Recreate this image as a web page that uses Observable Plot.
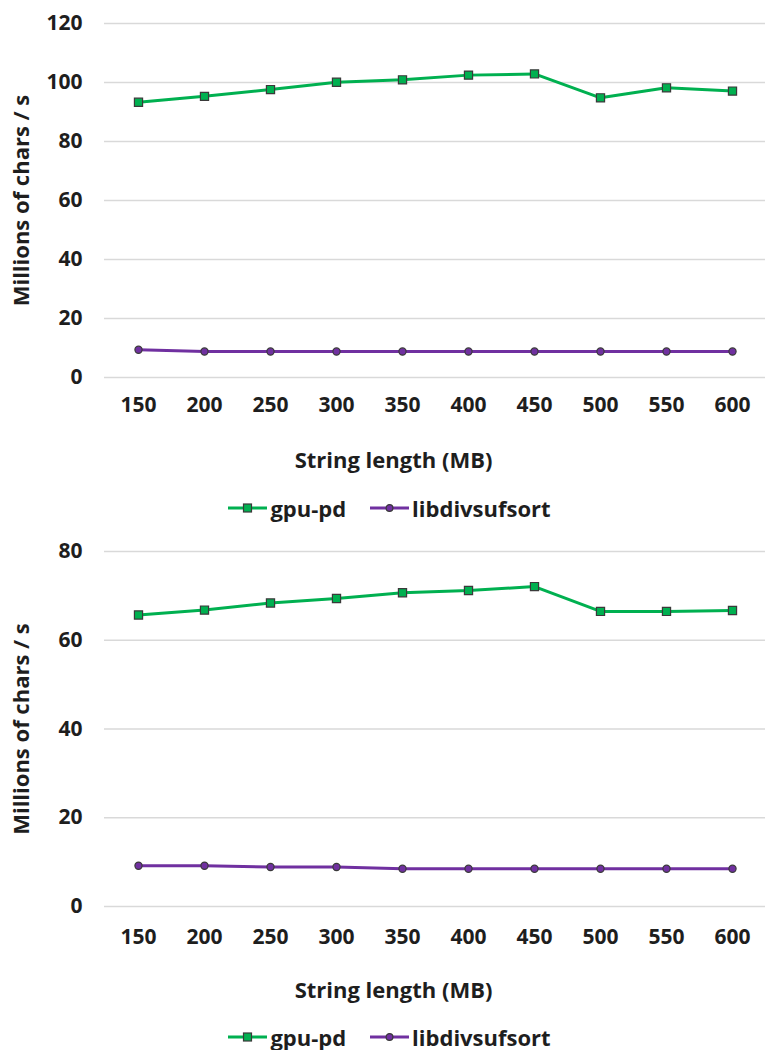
<!DOCTYPE html>
<html>
<head>
<meta charset="utf-8">
<script src="https://cdn.jsdelivr.net/npm/d3@7"></script>
<script src="https://cdn.jsdelivr.net/npm/@observablehq/plot@0.6"></script>
<style>
  html, body { margin: 0; padding: 0; background: #fff; overflow: hidden; }
  body { width: 765px; height: 1050px; font-family: "Open Sans", sans-serif; font-weight: 700; color: #1e1e1e; }
  .legend { display: flex; justify-content: center; align-items: center; font-size: 22px; line-height: 24px; padding-left: 14px; box-sizing: border-box; }
  .legend .item { display: flex; align-items: center; margin: 0 12px; }
  .legend svg { margin-right: 3px; }
</style>
</head>
<body>
<div id="chart1"></div>
<div class="legend" id="legend1" style="height:46px"></div>
<div id="chart2"></div>
<div class="legend" id="legend2" style="height:34px; padding-top:8px"></div>
<script>
const sizes = [150, 200, 250, 300, 350, 400, 450, 500, 550, 600];
const seriesNames = ["gpu-pd", "libdivsufsort"];
const gpuTop = [93.3, 95.3, 97.6, 100.1, 100.9, 102.5, 102.9, 94.8, 98.2, 97.1];
const libTop = [9.4, 8.8, 8.8, 8.8, 8.8, 8.8, 8.8, 8.8, 8.8, 8.8];
const gpuBottom = [65.7, 66.8, 68.4, 69.4, 70.7, 71.2, 72.1, 66.5, 66.5, 66.7];
const libBottom = [9.2, 9.2, 8.9, 8.9, 8.5, 8.5, 8.5, 8.5, 8.5, 8.5];
const yTicksTop = [0, 20, 40, 60, 80, 100, 120];
const yTicksBottom = [0, 20, 40, 60, 80];
const yTitle = "Millions of chars / s";
const xTitle = "String length (MB)";

const green = "#00b050", purple = "#7030a0", edge = "#3a3a3a";

function makeChart({gpu, lib, yMax, yTicks, height, marginTop, plotBottom, tickPad, xTitleDy}) {
  const g = sizes.map((s, i) => ({size: s, value: gpu[i]}));
  const l = sizes.map((s, i) => ({size: s, value: lib[i]}));
  const marginLeft = 104, marginRight = 0;
  const cx = (marginLeft + 765 - marginRight) / 2;
  return Plot.plot({
    width: 765,
    height,
    marginTop,
    marginBottom: height - plotBottom,
    marginLeft,
    marginRight,
    style: {fontFamily: "'Open Sans', sans-serif", fontWeight: 700, fontSize: "21px", color: "#1e1e1e", background: "#fff"},
    x: {type: "point", domain: sizes, padding: 0.5},
    y: {domain: [0, yMax]},
    marks: [
      Plot.ruleY(yTicks, {stroke: "#d9d9d9", strokeWidth: 1.6}),
      Plot.axisX({tickSize: 0, tickPadding: tickPad, label: null, fontSize: 21}),
      Plot.axisY({ticks: yTicks, tickSize: 0, tickPadding: 22, label: null, fontSize: 21}),
      Plot.line(l, {x: "size", y: "value", stroke: purple, strokeWidth: 3}),
      Plot.dot(l, {x: "size", y: "value", symbol: "circle", r: 3.6, fill: purple, stroke: edge, strokeWidth: 1.2}),
      Plot.line(g, {x: "size", y: "value", stroke: green, strokeWidth: 3}),
      Plot.dot(g, {x: "size", y: "value", symbol: "square", r: 4.6, fill: green, stroke: edge, strokeWidth: 1.2}),
      Plot.text([yTitle], {text: d => d, frameAnchor: "left", dx: 21 - marginLeft, rotate: -90, textAnchor: "middle", lineAnchor: "middle", fontSize: 22, fill: "#1e1e1e"}),
      Plot.text([xTitle], {text: d => d, frameAnchor: "bottom", dx: 393 - cx, dy: xTitleDy, textAnchor: "middle", lineAnchor: "middle", fontSize: 22, fill: "#1e1e1e"})
    ]
  });
}

function makeLegend(el) {
  const items = [
    {name: seriesNames[0], color: green, symbol: "square"},
    {name: seriesNames[1], color: purple, symbol: "circle"}
  ];
  for (const it of items) {
    const div = document.createElement("div");
    div.className = "item";
    const marker = it.symbol === "square"
      ? `<rect x="15.5" y="4" width="8" height="8" fill="${it.color}" stroke="${edge}" stroke-width="1.2"/>`
      : `<circle cx="19.5" cy="8" r="3.4" fill="${it.color}" stroke="${edge}" stroke-width="1.2"/>`;
    div.innerHTML = `<svg width="39" height="16"><line x1="0" y1="8" x2="39" y2="8" stroke="${it.color}" stroke-width="3"/>${marker}</svg><span>${it.name}</span>`;
    el.appendChild(div);
  }
}

document.getElementById("chart1").appendChild(makeChart({gpu: gpuTop, lib: libTop, yMax: 120, yTicks: yTicksTop, height: 485, marginTop: 23, plotBottom: 377, tickPad: 20, xTitleDy: 83}));
document.getElementById("chart2").appendChild(makeChart({gpu: gpuBottom, lib: libBottom, yMax: 80, yTicks: yTicksBottom, height: 485, marginTop: 20, plotBottom: 375, tickPad: 23, xTitleDy: 84}));
makeLegend(document.getElementById("legend1"));
makeLegend(document.getElementById("legend2"));
</script>
</body>
</html>
